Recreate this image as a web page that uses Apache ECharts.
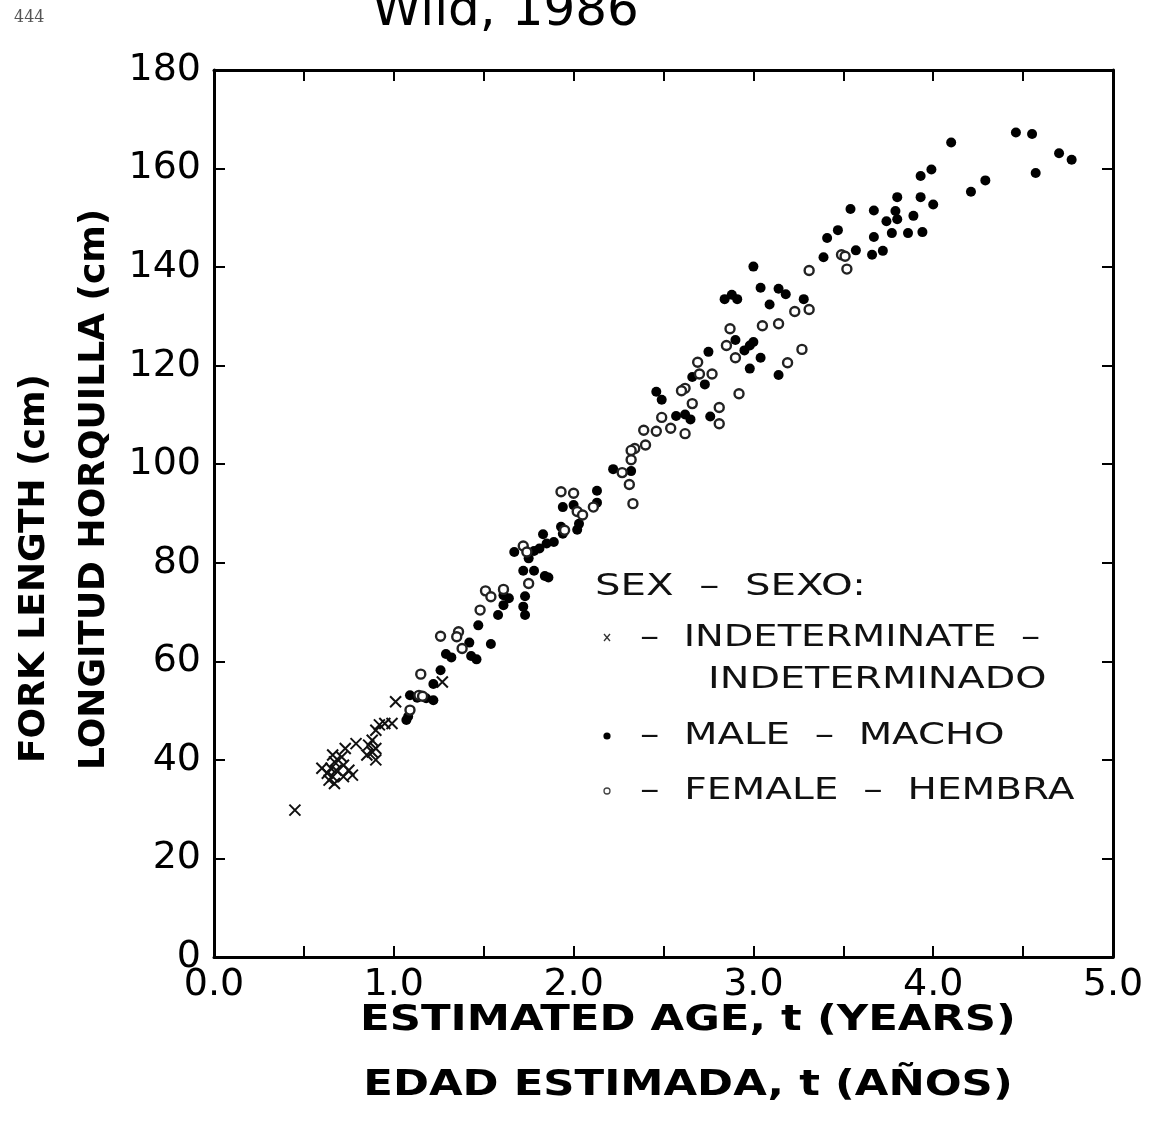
<!DOCTYPE html>
<html>
<head>
<meta charset="utf-8">
<script src="https://cdn.jsdelivr.net/npm/echarts@6/dist/echarts.min.js"></script>
<style>
html,body{margin:0;padding:0;background:#fff;}
#chart{width:1156px;height:1132px;}
</style>
</head>
<body>
<div id="chart"></div>
<script>
// ---- Data: [age (years), fork length (cm)] ----
const indeterminate = [
  [0.45,29.8],[1.01,51.8],[1.27,55.8],[0.92,47.1],[0.95,47.4],[0.99,47.4],[0.90,46.0],
  [0.79,43.3],[0.88,44.0],[0.86,43.0],[0.90,42.3],[0.88,41.6],[0.85,41.0],[0.90,40.0],
  [0.73,42.3],[0.66,41.0],[0.71,40.6],[0.67,39.6],[0.72,38.9],[0.75,37.9],[0.68,37.9],
  [0.65,38.3],[0.60,38.3],[0.63,37.3],[0.66,36.6],[0.72,36.6],[0.77,36.9],[0.67,35.2],[0.64,35.9]
];
const male = [
  [1.07,48.1],[1.08,48.8],[1.09,53.1],[1.13,52.6],[1.18,52.5],[1.22,52.1],[1.22,55.4],
  [1.26,58.2],[1.29,61.5],[1.32,60.8],[1.43,61.1],[1.46,60.4],[1.42,63.8],[1.47,67.3],
  [1.54,63.5],[1.58,69.4],[1.61,73.4],[1.64,72.8],[1.61,71.4],[1.72,71.1],[1.73,69.4],
  [1.73,73.2],[1.72,78.4],[1.78,78.4],[1.84,77.3],[1.86,77.0],[1.75,80.9],[1.67,82.2],
  [1.81,82.9],[1.78,82.4],[1.83,85.8],[1.89,84.2],[1.85,83.9],[1.94,85.9],[2.03,87.9],
  [2.02,86.7],[1.93,87.3],[1.94,91.3],[2.00,91.7],[2.13,94.6],[2.13,92.2],
  [2.22,99.0],[2.32,98.6],[2.46,114.7],[2.49,113.1],[2.57,109.8],[2.62,110.1],[2.65,109.1],
  [2.66,117.7],[2.73,116.2],[2.75,122.8],[2.76,109.7],[2.84,133.5],[2.88,134.4],[2.91,133.5],
  [2.90,125.2],[2.95,123.1],[2.98,124.1],[3.00,124.8],[3.04,121.6],[2.98,119.4],[3.14,118.1],
  [3.00,140.1],[3.04,135.8],[3.14,135.6],[3.18,134.5],[3.09,132.4],[3.28,133.5],
  [3.39,142.0],[3.41,145.9],[3.47,147.5],[3.54,151.8],[3.57,143.4],[3.66,142.5],[3.72,143.3],
  [3.67,146.1],[3.67,151.5],[3.74,149.3],[3.77,146.9],[3.79,151.4],[3.80,149.7],[3.80,154.2],
  [3.86,146.9],[3.89,150.4],[3.93,154.2],[3.94,147.1],[4.00,152.7],[3.93,158.5],[3.99,159.8],
  [4.10,165.3],[4.21,155.3],[4.29,157.6],[4.46,167.3],[4.55,167.0],[4.57,159.1],[4.70,163.1],[4.77,161.8]
];
const female = [
  [1.09,50.1],[1.15,57.4],[1.14,53.1],[1.16,52.9],[1.26,65.1],[1.36,66.0],[1.35,65.0],
  [1.38,62.6],[1.48,70.4],[1.51,74.3],[1.54,73.1],[1.61,74.6],[1.75,75.8],[1.72,83.4],
  [1.74,82.2],[1.95,86.6],[2.02,90.4],[2.05,89.7],[1.93,94.4],[2.00,94.1],[2.11,91.3],
  [2.27,98.3],[2.31,95.9],[2.33,92.0],[2.32,100.9],[2.34,103.2],[2.32,102.8],[2.40,103.9],
  [2.39,106.9],[2.46,106.7],[2.54,107.3],[2.62,106.2],[2.49,109.5],[2.62,115.4],[2.60,114.9],
  [2.66,112.3],[2.81,111.5],[2.81,108.2],[2.69,120.7],[2.70,118.3],[2.77,118.3],[2.92,114.3],
  [2.85,124.1],[2.90,121.6],[2.87,127.5],[3.05,128.1],[3.14,128.5],[3.19,120.6],[3.27,123.3],
  [3.23,131.0],[3.31,131.4],[3.31,139.3],[3.49,142.5],[3.51,142.2],[3.52,139.6]
];
const xTicks = {min: 0, max: 5, step: 0.5};
const yTicks = {min: 0, max: 180, step: 20};
const titleText = 'Wild, 1986';
const pageText = '444';
const yTitle1 = 'FORK LENGTH (cm)';
const yTitle2 = 'LONGITUD HORQUILLA (cm)';
const xTitle1 = 'ESTIMATED AGE, t (YEARS)';
const xTitle2 = 'EDAD ESTIMADA, t (AÑOS)';
const legendHead = 'SEX  –  SEXO:';
const legendLines = ['–  INDETERMINATE  –', 'INDETERMINADO', '–  MALE  –  MACHO', '–  FEMALE  –  HEMBRA'];

const chart = echarts.init(document.getElementById('chart'), null, {renderer: 'canvas'});
const FONT = 'DejaVu Sans';
const ink = '#000';
const xPath = 'path://M0,0L10,10M10,0L0,10';

const axisBase = {
  axisLine: {show: true, onZero: false, lineStyle: {color: ink, width: 3}},
  axisTick: {show: true, inside: true, length: 11, lineStyle: {color: ink, width: 2}},
  splitLine: {show: false}
};

const legendText = (text, x, y, sx) => ({
  type: 'text', x: x, y: y, scaleX: sx,
  style: {text: text, font: '31px "DejaVu Sans"', fill: '#111', align: 'left', verticalAlign: 'middle'}
});

const option = {
  backgroundColor: '#fff',
  animation: false,
  grid: {left: 214, right: 43, top: 70, bottom: 175},
  xAxis: [
    Object.assign({}, axisBase, {
      type: 'value', position: 'bottom', min: xTicks.min, max: xTicks.max, interval: xTicks.step,
      axisLabel: {
        color: ink, fontFamily: FONT, fontSize: 38, margin: 9,
        formatter: v => (Math.abs(v - Math.round(v)) < 1e-9 ? v.toFixed(1) : '')
      }
    }),
    Object.assign({}, axisBase, {
      type: 'value', position: 'top', min: xTicks.min, max: xTicks.max, interval: xTicks.step,
      axisLabel: {show: false}
    })
  ],
  yAxis: [
    Object.assign({}, axisBase, {
      type: 'value', position: 'left', min: yTicks.min, max: yTicks.max, interval: yTicks.step,
      axisLabel: {color: ink, fontFamily: FONT, fontSize: 38, margin: 13}
    }),
    Object.assign({}, axisBase, {
      type: 'value', position: 'right', min: yTicks.min, max: yTicks.max, interval: yTicks.step,
      axisLabel: {show: false}
    })
  ],
  series: [
    {
      name: 'indeterminate', type: 'scatter', data: indeterminate,
      symbol: xPath, symbolSize: 11,
      itemStyle: {color: 'none', borderColor: '#111', borderWidth: 2, opacity: 1}
    },
    {
      name: 'male', type: 'scatter', data: male,
      symbol: 'circle', symbolSize: 10,
      itemStyle: {color: '#000', opacity: 1}
    },
    {
      name: 'female', type: 'scatter', data: female,
      symbol: 'circle', symbolSize: 9,
      itemStyle: {color: '#fff', borderColor: '#222', borderWidth: 2.4, opacity: 1}
    }
  ],
  graphic: [
    {type: 'text', left: 372, top: -13, style: {text: titleText, font: '50px "DejaVu Sans"', fill: '#000'}},
    {type: 'text', left: 14, top: 10, style: {text: pageText, font: '16px "DejaVu Serif"', fill: '#555'}},
    {type: 'text', x: 35, y: 763, rotation: Math.PI / 2,
      style: {text: yTitle1, font: 'bold 36px "DejaVu Sans"', fill: ink, align: 'left', verticalAlign: 'middle'}},
    {type: 'text', x: 95, y: 770, rotation: Math.PI / 2,
      style: {text: yTitle2, font: 'bold 36px "DejaVu Sans"', fill: ink, align: 'left', verticalAlign: 'middle'}},
    {type: 'text', x: 688, y: 1021, scaleX: 1.24,
      style: {text: xTitle1, font: 'bold 35px "DejaVu Sans"', fill: ink, align: 'center', verticalAlign: 'middle'}},
    {type: 'text', x: 688, y: 1086, scaleX: 1.24,
      style: {text: xTitle2, font: 'bold 35px "DejaVu Sans"', fill: ink, align: 'center', verticalAlign: 'middle'}},
    legendText(legendHead, 595, 587, 1.3),
    legendText(legendLines[0], 640, 638, 1.24),
    legendText(legendLines[1], 708, 680, 1.28),
    legendText(legendLines[2], 640, 736, 1.25),
    legendText(legendLines[3], 640, 791, 1.26),
    // legend key symbols
    {type: 'polyline', shape: {points: [[604, 634], [610, 641]]}, style: {stroke: '#333', lineWidth: 1.3}},
    {type: 'polyline', shape: {points: [[610, 634], [604, 641]]}, style: {stroke: '#333', lineWidth: 1.3}},
    {type: 'circle', shape: {cx: 607, cy: 736, r: 3.6}, style: {fill: ink}},
    {type: 'circle', shape: {cx: 607, cy: 791, r: 3}, style: {fill: '#fff', stroke: '#444', lineWidth: 1.3}}
  ]
};
chart.setOption(option);
</script>
</body>
</html>
